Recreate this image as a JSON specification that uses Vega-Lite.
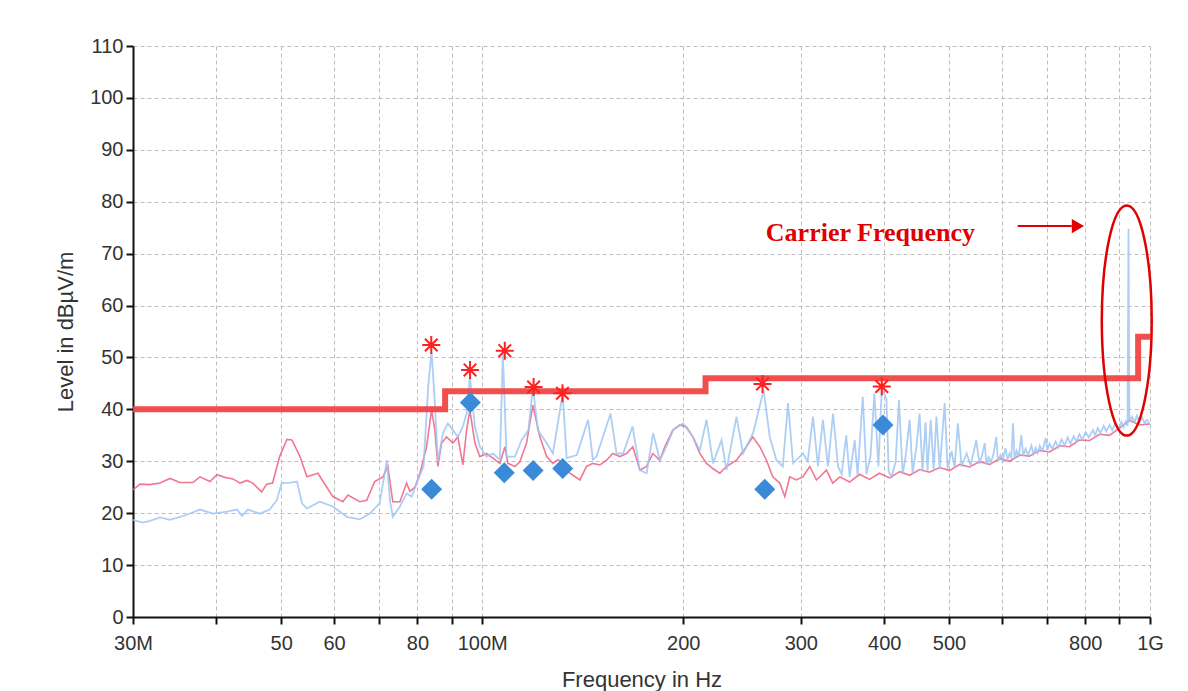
{
  "$schema": "https://vega.github.io/schema/vega-lite/v6.json",
  "width": 1017,
  "height": 571,
  "autosize": "none",
  "padding": {"left": 133, "top": 46, "right": 38, "bottom": 74},
  "background": "white",
  "config": {
    "view": {"stroke": null},
    "font": "Liberation Sans",
    "axis": {
      "domainColor": "#111111", "domainWidth": 2,
      "tickColor": "#111111", "tickWidth": 2, "tickSize": 7,
      "grid": true, "gridColor": "#bdbdbd", "gridDash": [4, 3], "gridWidth": 1,
      "labelFont": "Liberation Sans", "labelFontSize": 20, "labelColor": "#333333",
      "titleFont": "Liberation Sans", "titleFontSize": 22, "titleFontWeight": "normal", "titleColor": "#333333",
      "labelOverlap": false, "labelFlush": false
    }
  },
  "datasets": {
    "pink": [
      {"f":30.0,"v":24.5},{"f":30.73,"v":25.6},{"f":31.81,"v":25.5},{"f":32.93,"v":25.8},{"f":34.08,"v":26.7},{"f":35.27,"v":25.9},{"f":36.88,"v":25.9},{"f":37.79,"v":27.0},{"f":39.12,"v":26.1},{"f":40.07,"v":27.4},{"f":41.2,"v":26.9},{"f":42.35,"v":26.6},{"f":43.38,"v":25.8},{"f":44.43,"v":26.3},{"f":45.34,"v":25.8},{"f":46.75,"v":24.1},{"f":47.56,"v":25.6},{"f":48.55,"v":25.8},{"f":49.74,"v":30.9},{"f":51.01,"v":34.2},{"f":51.9,"v":34.1},{"f":53.35,"v":30.9},{"f":54.65,"v":27.0},{"f":56.77,"v":27.7},{"f":57.76,"v":26.1},{"f":59.77,"v":23.2},{"f":61.85,"v":22.2},{"f":62.94,"v":23.5},{"f":65.56,"v":22.2},{"f":67.16,"v":22.5},{"f":69.03,"v":26.1},{"f":71.01,"v":27.0},{"f":72.24,"v":29.0},{"f":73.48,"v":22.2},{"f":75.3,"v":22.2},{"f":77.06,"v":25.8},{"f":77.94,"v":24.2},{"f":79.3,"v":25.0},{"f":80.68,"v":27.7},{"f":82.55,"v":32.8},{"f":83.99,"v":39.9},{"f":84.95,"v":36.0},{"f":85.84,"v":29.0},{"f":86.93,"v":33.5},{"f":88.45,"v":34.7},{"f":90.38,"v":33.5},{"f":91.96,"v":34.7},{"f":93.56,"v":29.3},{"f":94.76,"v":36.0},{"f":95.84,"v":39.9},{"f":97.51,"v":33.5},{"f":99.2,"v":30.9},{"f":101.52,"v":31.5},{"f":103.76,"v":30.6},{"f":106.29,"v":29.6},{"f":108.15,"v":32.8},{"f":109.27,"v":29.6},{"f":111.93,"v":29.0},{"f":113.87,"v":29.9},{"f":116.53,"v":33.5},{"f":119.09,"v":40.8},{"f":122.0,"v":34.7},{"f":124.89,"v":30.9},{"f":127.62,"v":29.6},{"f":129.84,"v":30.3},{"f":132.11,"v":29.6},{"f":135.32,"v":27.7},{"f":140.05,"v":26.4},{"f":143.3,"v":29.0},{"f":146.46,"v":29.6},{"f":150.03,"v":29.3},{"f":153.53,"v":30.2},{"f":156.88,"v":31.5},{"f":160.72,"v":30.9},{"f":164.47,"v":31.5},{"f":168.1,"v":32.8},{"f":172.2,"v":28.3},{"f":176.27,"v":29.0},{"f":180.14,"v":31.5},{"f":184.51,"v":30.2},{"f":187.7,"v":32.8},{"f":192.96,"v":36.0},{"f":197.67,"v":37.0},{"f":202.28,"v":36.6},{"f":206.73,"v":34.7},{"f":211.78,"v":31.5},{"f":216.74,"v":29.6},{"f":221.47,"v":28.6},{"f":226.88,"v":27.7},{"f":232.17,"v":29.0},{"f":240.32,"v":30.2},{"f":248.69,"v":32.8},{"f":254.2,"v":34.7},{"f":260.44,"v":32.8},{"f":266.49,"v":30.2},{"f":272.37,"v":27.0},{"f":278.99,"v":25.8},{"f":283.86,"v":23.2},{"f":288.73,"v":27.0},{"f":295.47,"v":26.4},{"f":302.01,"v":27.0},{"f":309.42,"v":29.0},{"f":316.61,"v":26.4},{"f":327.72,"v":28.3},{"f":334.93,"v":25.8},{"f":343.1,"v":27.0},{"f":355.0,"v":26.0},{"f":367.4,"v":27.5},{"f":380.2,"v":26.5},{"f":393.4,"v":27.7},{"f":407.6,"v":26.8},{"f":421.9,"v":28.0},{"f":436.6,"v":27.3},{"f":451.8,"v":28.4},{"f":467.5,"v":27.9},{"f":484.3,"v":28.8},{"f":501.1,"v":28.2},{"f":518.6,"v":29.4},{"f":536.6,"v":28.9},{"f":555.3,"v":29.9},{"f":575.4,"v":29.4},{"f":595.4,"v":30.5},{"f":616.1,"v":30.0},{"f":637.6,"v":31.2},{"f":659.8,"v":31.0},{"f":683.6,"v":32.1},{"f":707.4,"v":31.8},{"f":732.0,"v":33.0},{"f":757.5,"v":32.8},{"f":783.9,"v":34.1},{"f":812.2,"v":34.0},{"f":840.4,"v":35.2},{"f":869.7,"v":35.0},{"f":900.0,"v":36.4},{"f":931.3,"v":37.9},{"f":964.8,"v":37.0},{"f":1000,"v":37.2}
    ],
    "blue": [
      {"f":30.0,"v":18.7},{"f":31.04,"v":18.2},{"f":31.81,"v":18.5},{"f":32.93,"v":19.2},{"f":34.08,"v":18.7},{"f":36.14,"v":19.7},{"f":37.79,"v":20.7},{"f":39.52,"v":19.9},{"f":41.47,"v":20.3},{"f":42.94,"v":20.7},{"f":43.68,"v":19.5},{"f":44.58,"v":20.7},{"f":46.45,"v":19.9},{"f":48.07,"v":20.7},{"f":49.24,"v":22.5},{"f":50.1,"v":25.8},{"f":51.56,"v":25.9},{"f":52.81,"v":26.1},{"f":53.73,"v":21.9},{"f":54.65,"v":20.9},{"f":57.11,"v":22.2},{"f":59.77,"v":21.3},{"f":62.72,"v":19.3},{"f":65.56,"v":18.8},{"f":67.84,"v":19.9},{"f":70.21,"v":21.9},{"f":72.0,"v":30.2},{"f":72.74,"v":22.5},{"f":73.48,"v":19.3},{"f":75.3,"v":21.3},{"f":77.06,"v":23.8},{"f":78.43,"v":23.2},{"f":79.78,"v":25.8},{"f":81.68,"v":29.0},{"f":83.01,"v":44.4},{"f":83.99,"v":51.1},{"f":84.95,"v":41.2},{"f":85.84,"v":29.9},{"f":87.33,"v":35.4},{"f":88.85,"v":37.3},{"f":90.38,"v":36.0},{"f":91.96,"v":34.7},{"f":93.56,"v":36.7},{"f":94.76,"v":39.2},{"f":95.84,"v":46.3},{"f":97.51,"v":36.7},{"f":99.2,"v":32.8},{"f":101.52,"v":30.9},{"f":103.76,"v":31.5},{"f":106.29,"v":30.3},{"f":107.39,"v":50.8},{"f":108.77,"v":30.9},{"f":111.93,"v":30.9},{"f":114.6,"v":34.1},{"f":117.28,"v":36.0},{"f":119.09,"v":44.4},{"f":121.16,"v":36.0},{"f":124.89,"v":33.5},{"f":127.62,"v":31.5},{"f":131.97,"v":43.1},{"f":133.8,"v":30.6},{"f":138.56,"v":31.2},{"f":144.09,"v":38.0},{"f":146.46,"v":30.3},{"f":148.31,"v":30.9},{"f":155.67,"v":39.2},{"f":158.92,"v":31.5},{"f":162.59,"v":31.5},{"f":167.93,"v":36.7},{"f":172.2,"v":28.3},{"f":176.27,"v":27.7},{"f":180.32,"v":35.4},{"f":184.51,"v":30.2},{"f":188.69,"v":32.8},{"f":193.17,"v":36.0},{"f":199.92,"v":37.3},{"f":206.95,"v":34.7},{"f":211.78,"v":32.1},{"f":216.74,"v":38.0},{"f":221.69,"v":29.6},{"f":228.2,"v":34.1},{"f":232.17,"v":28.3},{"f":240.32,"v":38.6},{"f":245.85,"v":31.5},{"f":254.48,"v":35.4},{"f":263.88,"v":43.7},{"f":269.53,"v":34.7},{"f":275.82,"v":30.2},{"f":281.91,"v":29.0},{"f":287.1,"v":41.2},{"f":292.09,"v":29.6},{"f":302.27,"v":31.5},{"f":307.22,"v":30.0},{"f":312.86,"v":38.6},{"f":318.25,"v":29.0},{"f":323.77,"v":38.0},{"f":329.37,"v":29.0},{"f":335.28,"v":39.2},{"f":341.09,"v":29.0},{"f":345.35,"v":27.5},{"f":350.87,"v":35.0},{"f":355.0,"v":27.0},{"f":361.25,"v":34.1},{"f":364.87,"v":27.3},{"f":371.47,"v":42.4},{"f":376.23,"v":27.5},{"f":381.45,"v":31.0},{"f":386.65,"v":43.1},{"f":392.0,"v":29.0},{"f":396.58,"v":44.0},{"f":403.0,"v":42.1},{"f":406.2,"v":28.0},{"f":410.4,"v":27.0},{"f":416.1,"v":30.0},{"f":420.8,"v":41.8},{"f":426.2,"v":27.5},{"f":430.6,"v":31.0},{"f":436.6,"v":38.0},{"f":441.1,"v":27.6},{"f":447.2,"v":33.0},{"f":451.8,"v":39.2},{"f":456.4,"v":28.0},{"f":461.2,"v":37.5},{"f":464.4,"v":28.2},{"f":469.5,"v":38.0},{"f":474.4,"v":28.3},{"f":478.8,"v":38.6},{"f":484.3,"v":28.5},{"f":492.6,"v":41.2},{"f":497.7,"v":28.6},{"f":504.5,"v":32.0},{"f":509.8,"v":28.8},{"f":515.6,"v":37.3},{"f":522.3,"v":29.0},{"f":531.4,"v":31.5},{"f":538.7,"v":29.2},{"f":549.4,"v":34.1},{"f":555.3,"v":29.5},{"f":560,"v":31.0},{"f":565.6,"v":33.5},{"f":569,"v":29.4},{"f":573.4,"v":30.8},{"f":578,"v":29.8},{"f":583,"v":31.5},{"f":588.6,"v":34.7},{"f":592,"v":30.0},{"f":597.2,"v":31.2},{"f":602,"v":30.2},{"f":607.5,"v":32.5},{"f":612,"v":30.4},{"f":616.1,"v":31.5},{"f":620,"v":30.6},{"f":623.5,"v":37.3},{"f":627,"v":30.5},{"f":631.4,"v":32.0},{"f":636,"v":30.8},{"f":641.7,"v":35.0},{"f":646,"v":31.0},{"f":651.2,"v":32.4},{"f":657,"v":31.2},{"f":664.6,"v":33.0},{"f":669,"v":31.4},{"f":674.3,"v":32.6},{"f":679,"v":31.6},{"f":683.6,"v":33.0},{"f":690,"v":32.0},{"f":697.9,"v":34.5},{"f":702,"v":32.2},{"f":707.4,"v":33.4},{"f":714,"v":32.4},{"f":722.2,"v":33.8},{"f":729,"v":32.6},{"f":737.4,"v":34.2},{"f":745,"v":33.0},{"f":752.8,"v":34.6},{"f":760,"v":33.4},{"f":768.5,"v":34.8},{"f":776,"v":33.8},{"f":783.9,"v":35.2},{"f":792,"v":34.2},{"f":801.1,"v":35.6},{"f":810,"v":34.6},{"f":821.5,"v":36.0},{"f":828,"v":35.0},{"f":835.0,"v":36.4},{"f":843,"v":35.4},{"f":852.4,"v":36.8},{"f":860,"v":35.8},{"f":869.7,"v":37.0},{"f":878,"v":36.0},{"f":887.9,"v":37.4},{"f":897,"v":36.4},{"f":906.4,"v":37.6},{"f":913,"v":36.6},{"f":919.0,"v":37.6},{"f":925.4,"v":36.8},{"f":928.6,"v":74.8},{"f":931.3,"v":37.5},{"f":940,"v":38.6},{"f":948.5,"v":37.6},{"f":956,"v":38.8},{"f":964.8,"v":37.4},{"f":973,"v":38.4},{"f":981.7,"v":37.4},{"f":990,"v":38.0},{"f":1000,"v":37.0}
    ],
    "limit": [
      {"f":30,"v":40},{"f":88,"v":43.5},{"f":216,"v":46},{"f":960,"v":54},{"f":1000,"v":54}
    ],
    "stars": [
      {"f":83.9,"v":52.4},{"f":95.9,"v":47.6},{"f":108.1,"v":51.3},{"f":119.4,"v":44.3},{"f":131.9,"v":43.1},{"f":262.9,"v":44.9},{"f":396.6,"v":44.4}
    ],
    "diamonds": [
      {"f":84.0,"v":24.6},{"f":96.0,"v":41.3},{"f":107.9,"v":27.8},{"f":119.2,"v":28.2},{"f":132.0,"v":28.6},{"f":264.9,"v":24.6},{"f":398.3,"v":37.0}
    ],
    "ellipse": [{"f":923,"v":57.1}],
    "arrow": [{"f":633.8,"f2":763.5,"v":75.3}],
    "arrowhead": [{"f":780,"v":75.3}],
    "label": [{"f":265.9,"v":72.4,"t":"Carrier Frequency"}]
  },
  "layer": [
    {
      "data": {"name": "pink"},
      "mark": {"type": "line", "color": "#ee5f80", "strokeWidth": 1.6, "opacity": 0.85},
      "encoding": {
        "x": {"field": "f", "type": "quantitative",
              "scale": {"type": "log", "domain": [30, 1000], "nice": false},
              "axis": {"title": "Frequency in Hz", "titlePadding": 16, "labelPadding": 9,
                       "values": [30,40,50,60,70,80,90,100,200,300,400,500,600,700,800,900,1000],
                       "labelExpr": "datum.value == 30 ? '30M' : datum.value == 100 ? '100M' : datum.value == 1000 ? '1G' : indexof([50,60,80,200,300,400,500,800], datum.value) >= 0 ? format(datum.value, 'd') : ''"}},
        "y": {"field": "v", "type": "quantitative",
              "scale": {"domain": [0, 110], "nice": false},
              "axis": {"title": "Level in dBµV/m", "titlePadding": 12, "labelPadding": 3,
                       "values": [0,5,10,15,20,25,30,35,40,45,50,55,60,65,70,75,80,85,90,95,100,105,110],
                       "labelExpr": "datum.value % 10 === 0 ? format(datum.value, 'd') : ''"}}
      }
    },
    {
      "data": {"name": "blue"},
      "mark": {"type": "line", "color": "#9fc6f3", "strokeWidth": 1.8, "opacity": 0.85},
      "encoding": {
        "x": {"field": "f", "type": "quantitative"},
        "y": {"field": "v", "type": "quantitative"}
      }
    },
    {
      "data": {"name": "limit"},
      "mark": {"type": "line", "interpolate": "step-after", "color": "#f04444", "strokeWidth": 6, "opacity": 0.95},
      "encoding": {
        "x": {"field": "f", "type": "quantitative"},
        "y": {"field": "v", "type": "quantitative"}
      }
    },
    {
      "data": {"name": "stars"},
      "mark": {"type": "point", "shape": "M-1,0L1,0M0,-1L0,1M-0.7,-0.7L0.7,0.7M-0.7,0.7L0.7,-0.7", "size": 324, "filled": false, "stroke": "#ff2020", "strokeWidth": 2, "opacity": 1},
      "encoding": {
        "x": {"field": "f", "type": "quantitative"},
        "y": {"field": "v", "type": "quantitative"}
      }
    },
    {
      "data": {"name": "diamonds"},
      "mark": {"type": "point", "shape": "diamond", "size": 441, "filled": true, "color": "#3b8ad8", "opacity": 1},
      "encoding": {
        "x": {"field": "f", "type": "quantitative"},
        "y": {"field": "v", "type": "quantitative"}
      }
    },
    {
      "data": {"name": "ellipse"},
      "mark": {"type": "point", "shape": "M0,-1C0.12,-1,0.217,-0.552,0.217,0C0.217,0.552,0.12,1,0,1C-0.12,1,-0.217,0.552,-0.217,0C-0.217,-0.552,-0.12,-1,0,-1Z", "size": 52900, "filled": false, "stroke": "#e00000", "strokeWidth": 2.5, "opacity": 1},
      "encoding": {
        "x": {"field": "f", "type": "quantitative"},
        "y": {"field": "v", "type": "quantitative"}
      }
    },
    {
      "data": {"name": "arrow"},
      "mark": {"type": "rule", "color": "#e00000", "strokeWidth": 2},
      "encoding": {
        "x": {"field": "f", "type": "quantitative"},
        "x2": {"field": "f2"},
        "y": {"field": "v", "type": "quantitative"}
      }
    },
    {
      "data": {"name": "arrowhead"},
      "mark": {"type": "point", "shape": "triangle-right", "size": 200, "filled": true, "color": "#e00000", "opacity": 1},
      "encoding": {
        "x": {"field": "f", "type": "quantitative"},
        "y": {"field": "v", "type": "quantitative"}
      }
    },
    {
      "data": {"name": "label"},
      "mark": {"type": "text", "align": "left", "baseline": "alphabetic", "font": "Liberation Serif", "fontWeight": "bold", "fontSize": 26, "color": "#e00000"},
      "encoding": {
        "x": {"field": "f", "type": "quantitative"},
        "y": {"field": "v", "type": "quantitative"},
        "text": {"field": "t"}
      }
    }
  ]
}
